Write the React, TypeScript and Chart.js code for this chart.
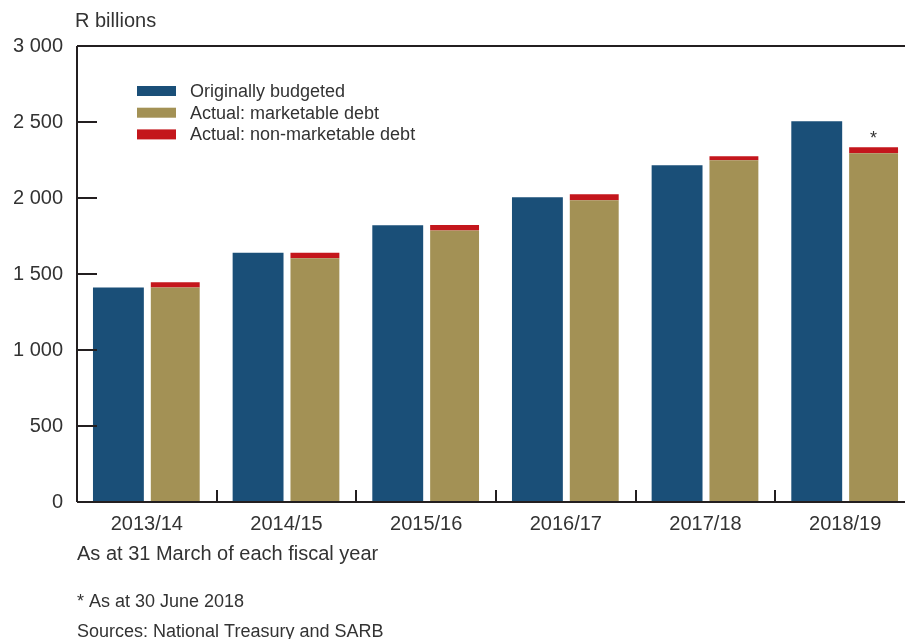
import React, { useEffect, useRef } from "react";
import { Chart, registerables } from "chart.js";

Chart.register(...registerables);

const categories = ["2013/14", "2014/15", "2015/16", "2016/17", "2017/18", "2018/19"];
const originallyBudgeted = [1412, 1639, 1820, 2005, 2215, 2505];
const actualMarketable = [1412, 1603, 1787, 1985, 2248, 2294];
const actualNonMarketable = [33, 36, 35, 39, 26, 40];
const yTicks = [0, 500, 1000, 1500, 2000, 2500, 3000];
const seriesLabels = ["Originally budgeted", "Actual: marketable debt", "Actual: non-marketable debt"];
const seriesColors = ["#1a4f78", "#a39155", "#c4161c"];
const unitLabel = "R billions";
const axisNote = "As at 31 March of each fiscal year";
const footnote = "* As at 30 June 2018";
const sourceNote = "Sources: National Treasury and SARB";
const starredIndex = 5;

const FONT = '"Liberation Sans", Arial, sans-serif';
const TEXT = "#333333";
const AXIS = "#231f20";

const fmt = (v: number) => String(v).replace(/\B(?=(\d{3})+(?!\d))/g, " ");

const decorPlugin = {
  id: "decor",
  afterDraw(chart: any) {
    const ctx = chart.ctx as CanvasRenderingContext2D;
    const { left, right, top, bottom } = chart.chartArea;
    const x = chart.scales.x;
    const y = chart.scales.y;
    ctx.save();
    ctx.strokeStyle = AXIS;
    ctx.lineWidth = 2;
    ctx.beginPath();
    // top border
    ctx.moveTo(left, top);
    ctx.lineTo(right + 20, top);
    // left axis
    ctx.moveTo(left, top);
    ctx.lineTo(left, bottom);
    // bottom axis
    ctx.moveTo(left, bottom);
    ctx.lineTo(right + 20, bottom);
    // y ticks
    yTicks.forEach((v) => {
      if (v === 0 || v === 3000) return;
      const py = Math.round(y.getPixelForValue(v));
      ctx.moveTo(left, py);
      ctx.lineTo(left + 20, py);
    });
    // x ticks between categories
    for (let i = 0; i < categories.length - 1; i++) {
      const px = Math.round((x.getPixelForValue(i) + x.getPixelForValue(i + 1)) / 2);
      ctx.moveTo(px, bottom);
      ctx.lineTo(px, bottom - 12);
    }
    ctx.stroke();

    // asterisk
    const el = chart.getDatasetMeta(2).data[starredIndex];
    if (el) {
      ctx.fillStyle = TEXT;
      ctx.font = `18px ${FONT}`;
      ctx.textAlign = "center";
      ctx.textBaseline = "alphabetic";
      ctx.fillText("*", el.x, el.y - 3);
    }

    // legend
    ctx.textAlign = "left";
    ctx.textBaseline = "middle";
    ctx.font = `18px ${FONT}`;
    seriesLabels.forEach((lab, i) => {
      const cy = 91 + i * 21.7;
      ctx.fillStyle = seriesColors[i];
      ctx.fillRect(137, cy - 5, 39, 10);
      ctx.fillStyle = TEXT;
      ctx.fillText(lab, 190, cy + 1);
    });

    // texts
    ctx.font = `20px ${FONT}`;
    ctx.fillText(unitLabel, 75, 21);
    ctx.fillText(axisNote, 77, 554);
    ctx.font = `18px ${FONT}`;
    ctx.fillText(footnote, 77, 602);
    ctx.fillText(sourceNote, 77, 632);
    ctx.restore();
  },
};

export default function App() {
  const ref = useRef<HTMLCanvasElement | null>(null);
  useEffect(() => {
    if (!ref.current) return;
    const chart = new Chart(ref.current, {
      type: "bar",
      data: {
        labels: categories,
        datasets: [
          {
            label: seriesLabels[0],
            data: originallyBudgeted,
            backgroundColor: seriesColors[0],
            stack: "budget",
            barPercentage: 0.895,
            categoryPercentage: 0.814,
          },
          {
            label: seriesLabels[1],
            data: actualMarketable,
            backgroundColor: seriesColors[1],
            stack: "actual",
            barPercentage: 0.86,
            categoryPercentage: 0.814,
          },
          {
            label: seriesLabels[2],
            data: actualNonMarketable,
            backgroundColor: seriesColors[2],
            stack: "actual",
            barPercentage: 0.86,
            categoryPercentage: 0.814,
          },
        ],
      },
      options: {
        animation: false,
        responsive: false,
        maintainAspectRatio: false,
        layout: { padding: { top: 46, right: 9, left: 0, bottom: 0 } },
        plugins: { legend: { display: false }, tooltip: { enabled: false } },
        scales: {
          x: {
            stacked: true,
            grid: { display: false, drawTicks: false },
            border: { display: false },
            ticks: { color: TEXT, font: { family: FONT, size: 20 }, padding: 10, maxRotation: 0 },
            afterFit: (s: any) => {
              s.height = 137;
            },
          },
          y: {
            stacked: true,
            min: 0,
            max: 3000,
            grid: { display: false, drawTicks: false },
            border: { display: false },
            ticks: {
              stepSize: 500,
              color: TEXT,
              font: { family: FONT, size: 20 },
              padding: 14,
              callback: (v: any) => fmt(Number(v)),
            },
            afterFit: (s: any) => {
              s.width = 77;
            },
          },
        },
      },
      plugins: [decorPlugin],
    });
    return () => chart.destroy();
  }, []);
  return (
    <div style={{ position: "fixed", left: 0, top: 0, width: 924, height: 639, background: "#fff" }}>
      <canvas ref={ref} width={924} height={639} style={{ display: "block", width: 924, height: 639 }} />
    </div>
  );
}
